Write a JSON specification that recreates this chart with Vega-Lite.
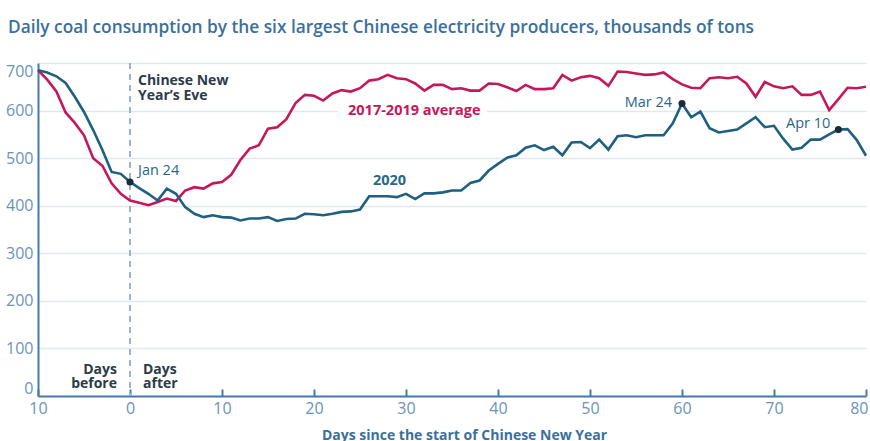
{
  "$schema": "https://vega.github.io/schema/vega-lite/v6.json",
  "autosize": "none",
  "width": 828,
  "height": 333,
  "padding": {"left": 38, "top": 63, "right": 4, "bottom": 45},
  "background": "white",
  "config": {
    "view": {"stroke": null},
    "font": "Open Sans",
    "axis": {"labelFont": "Open Sans", "titleFont": "Open Sans"}
  },
  "title": {
    "text": "Daily coal consumption by the six largest Chinese electricity producers, thousands of tons",
    "anchor": "start",
    "frame": "group",
    "dx": -30,
    "offset": 26,
    "fontSize": 17.3,
    "fontWeight": 600,
    "color": "#3b6f9c",
    "font": "Open Sans"
  },
  "data": {
    "values": [
      {"day": -10, "avg": 685, "y2020": 685},
      {"day": -9, "avg": 665, "y2020": 680},
      {"day": -8, "avg": 640, "y2020": 672},
      {"day": -7, "avg": 596, "y2020": 658},
      {"day": -6, "avg": 574, "y2020": 629},
      {"day": -5, "avg": 548, "y2020": 597},
      {"day": -4, "avg": 500, "y2020": 559},
      {"day": -3, "avg": 484, "y2020": 517},
      {"day": -2, "avg": 447, "y2020": 471},
      {"day": -1, "avg": 425, "y2020": 467},
      {"day": 0, "avg": 411, "y2020": 450},
      {"day": 1, "avg": 406, "y2020": 437},
      {"day": 2, "avg": 401, "y2020": 425},
      {"day": 3, "avg": 408, "y2020": 411},
      {"day": 4, "avg": 415, "y2020": 436},
      {"day": 5, "avg": 410, "y2020": 425},
      {"day": 6, "avg": 432, "y2020": 397},
      {"day": 7, "avg": 439, "y2020": 383},
      {"day": 8, "avg": 436, "y2020": 376},
      {"day": 9, "avg": 447, "y2020": 380},
      {"day": 10, "avg": 450, "y2020": 376},
      {"day": 11, "avg": 465, "y2020": 375},
      {"day": 12, "avg": 496, "y2020": 369},
      {"day": 13, "avg": 520, "y2020": 373},
      {"day": 14, "avg": 527, "y2020": 373},
      {"day": 15, "avg": 562, "y2020": 376},
      {"day": 16, "avg": 565, "y2020": 368},
      {"day": 17, "avg": 582, "y2020": 372},
      {"day": 18, "avg": 616, "y2020": 373},
      {"day": 19, "avg": 633, "y2020": 383},
      {"day": 20, "avg": 631, "y2020": 382},
      {"day": 21, "avg": 621, "y2020": 380},
      {"day": 22, "avg": 636, "y2020": 383},
      {"day": 23, "avg": 643, "y2020": 387},
      {"day": 24, "avg": 640, "y2020": 388},
      {"day": 25, "avg": 647, "y2020": 392},
      {"day": 26, "avg": 663, "y2020": 420},
      {"day": 27, "avg": 666, "y2020": 420},
      {"day": 28, "avg": 675, "y2020": 420},
      {"day": 29, "avg": 668, "y2020": 418},
      {"day": 30, "avg": 666, "y2020": 425},
      {"day": 31, "avg": 657, "y2020": 414},
      {"day": 32, "avg": 642, "y2020": 426},
      {"day": 33, "avg": 654, "y2020": 426},
      {"day": 34, "avg": 654, "y2020": 428},
      {"day": 35, "avg": 645, "y2020": 432},
      {"day": 36, "avg": 647, "y2020": 432},
      {"day": 37, "avg": 642, "y2020": 448},
      {"day": 38, "avg": 642, "y2020": 453},
      {"day": 39, "avg": 657, "y2020": 474},
      {"day": 40, "avg": 656, "y2020": 488},
      {"day": 41, "avg": 649, "y2020": 501},
      {"day": 42, "avg": 641, "y2020": 506},
      {"day": 43, "avg": 654, "y2020": 522},
      {"day": 44, "avg": 645, "y2020": 527},
      {"day": 45, "avg": 645, "y2020": 517},
      {"day": 46, "avg": 647, "y2020": 524},
      {"day": 47, "avg": 675, "y2020": 506},
      {"day": 48, "avg": 663, "y2020": 533},
      {"day": 49, "avg": 670, "y2020": 534},
      {"day": 50, "avg": 673, "y2020": 521},
      {"day": 51, "avg": 668, "y2020": 539},
      {"day": 52, "avg": 652, "y2020": 518},
      {"day": 53, "avg": 682, "y2020": 546},
      {"day": 54, "avg": 681, "y2020": 548},
      {"day": 55, "avg": 678, "y2020": 544},
      {"day": 56, "avg": 675, "y2020": 548},
      {"day": 57, "avg": 676, "y2020": 548},
      {"day": 58, "avg": 680, "y2020": 548},
      {"day": 59, "avg": 666, "y2020": 573},
      {"day": 60, "avg": 655, "y2020": 615},
      {"day": 61, "avg": 648, "y2020": 586},
      {"day": 62, "avg": 647, "y2020": 598},
      {"day": 63, "avg": 668, "y2020": 563},
      {"day": 64, "avg": 670, "y2020": 554},
      {"day": 65, "avg": 668, "y2020": 557},
      {"day": 66, "avg": 671, "y2020": 560},
      {"day": 67, "avg": 657, "y2020": 573},
      {"day": 68, "avg": 629, "y2020": 586},
      {"day": 69, "avg": 660, "y2020": 565},
      {"day": 70, "avg": 651, "y2020": 568},
      {"day": 71, "avg": 647, "y2020": 541},
      {"day": 72, "avg": 651, "y2020": 518},
      {"day": 73, "avg": 633, "y2020": 522},
      {"day": 74, "avg": 633, "y2020": 539},
      {"day": 75, "avg": 640, "y2020": 539},
      {"day": 76, "avg": 601, "y2020": 550},
      {"day": 77, "avg": 624, "y2020": 560},
      {"day": 78, "avg": 648, "y2020": 561},
      {"day": 79, "avg": 647, "y2020": 538},
      {"day": 80, "avg": 650, "y2020": 505}
    ]
  },
  "encoding": {
    "x": {
      "field": "day",
      "type": "quantitative",
      "scale": {"domain": [-10, 80], "nice": false, "zero": false},
      "axis": {
        "values": [-10, 0, 10, 20, 30, 40, 50, 60, 70, 80],
        "labelExpr": "'' + abs(datum.value)",
        "grid": false,
        "domainColor": "#4a7aa8",
        "domainWidth": 2,
        "tickColor": "#4a7aa8",
        "tickWidth": 2,
        "tickSize": -7,
        "labelColor": "#6a93bb",
        "labelFontSize": 16,
        "labelPadding": 11,
        "labelFlush": false,
        "labelAlign": {"condition": {"test": "datum.value == 80", "value": "right"}, "value": "center"},
        "labelOffset": {"condition": {"test": "datum.value == 80", "value": 2}, "value": 0},
        "title": "Days since the start of Chinese New Year",
        "titleFontSize": 14,
        "titleFontWeight": "bold",
        "titleColor": "#3b6f9c",
        "titlePadding": 12,
        "titleX": 426
      }
    },
    "y": {
      "field": "avg",
      "type": "quantitative",
      "scale": {"domain": [0, 700], "nice": false},
      "axis": {
        "values": [0, 100, 200, 300, 400, 500, 600, 700],
        "title": null,
        "ticks": false,
        "domainColor": "#4a7aa8",
        "domainWidth": 2,
        "grid": true,
        "gridColor": "#e1e8f0",
        "gridWidth": 1.5,
        "labelColor": "#6a93bb",
        "labelFontSize": 16,
        "labelPadding": 5,
        "labelFlush": true
      }
    }
  },
  "layer": [
    {
      "transform": [{"filter": "datum.day == 0"}],
      "mark": {"type": "rule", "color": "white", "strokeWidth": 5},
      "encoding": {
        "x": {"datum": 22.6},
        "x2": {"datum": 38.8},
        "y": {"datum": 600}
      }
    },
    {
      "transform": [{"filter": "datum.day == 0"}],
      "mark": {"type": "rule", "color": "#9ab4cf", "strokeWidth": 2, "strokeDash": [6, 5]},
      "encoding": {"x": {"datum": 0}, "y": null}
    },
    {
      "mark": {"type": "line", "color": "#c5185b", "strokeWidth": 2.6},
      "encoding": {"y": {"field": "avg", "type": "quantitative"}}
    },
    {
      "mark": {"type": "line", "color": "#1f5f80", "strokeWidth": 2.6},
      "encoding": {"y": {"field": "y2020", "type": "quantitative"}}
    },
    {
      "transform": [{"filter": {"field": "day", "oneOf": [0, 60, 77]}}],
      "mark": {"type": "point", "filled": true, "color": "#1c2a38", "size": 50, "opacity": 1},
      "encoding": {"y": {"field": "y2020", "type": "quantitative"}}
    },
    {
      "transform": [{"filter": "datum.day == 0"}],
      "mark": {"type": "text", "text": ["Chinese New", "Year’s Eve"], "align": "left", "baseline": "alphabetic", "dx": 8, "fontSize": 14, "fontWeight": "bold", "color": "#2d3b48", "lineHeight": 15},
      "encoding": {"x": {"datum": 0}, "y": {"datum": 654}}
    },
    {
      "transform": [{"filter": "datum.day == 0"}],
      "mark": {"type": "text", "text": "Jan 24", "align": "left", "baseline": "alphabetic", "dx": 8, "fontSize": 14.5, "color": "#2a6688"},
      "encoding": {"x": {"datum": 0}, "y": {"datum": 464}}
    },
    {
      "transform": [{"filter": "datum.day == 0"}],
      "mark": {"type": "text", "text": "Mar 24", "align": "right", "baseline": "alphabetic", "dx": -10, "fontSize": 14.5, "color": "#2a6688"},
      "encoding": {"x": {"datum": 60}, "y": {"datum": 608}}
    },
    {
      "transform": [{"filter": "datum.day == 0"}],
      "mark": {"type": "text", "text": "Apr 10", "align": "right", "baseline": "alphabetic", "dx": -8, "fontSize": 14.5, "color": "#2a6688"},
      "encoding": {"x": {"datum": 77}, "y": {"datum": 564}}
    },
    {
      "transform": [{"filter": "datum.day == 0"}],
      "mark": {"type": "text", "text": "2017-2019 average", "align": "left", "baseline": "alphabetic", "fontSize": 14.5, "fontWeight": "bold", "color": "#c5185b"},
      "encoding": {"x": {"datum": 23.7}, "y": {"datum": 591}}
    },
    {
      "transform": [{"filter": "datum.day == 0"}],
      "mark": {"type": "text", "text": "2020", "align": "left", "baseline": "alphabetic", "fontSize": 14.5, "fontWeight": "bold", "color": "#2a6688"},
      "encoding": {"x": {"datum": 26.4}, "y": {"datum": 443}}
    },
    {
      "transform": [{"filter": "datum.day == 0"}],
      "mark": {"type": "text", "text": ["Days", "before"], "align": "right", "baseline": "alphabetic", "dx": -13, "fontSize": 14, "fontWeight": "bold", "color": "#2d3b48", "lineHeight": 14},
      "encoding": {"x": {"datum": 0}, "y": {"datum": 46}}
    },
    {
      "transform": [{"filter": "datum.day == 0"}],
      "mark": {"type": "text", "text": ["Days", "after"], "align": "left", "baseline": "alphabetic", "dx": 13, "fontSize": 14, "fontWeight": "bold", "color": "#2d3b48", "lineHeight": 14},
      "encoding": {"x": {"datum": 0}, "y": {"datum": 46}}
    }
  ]
}
